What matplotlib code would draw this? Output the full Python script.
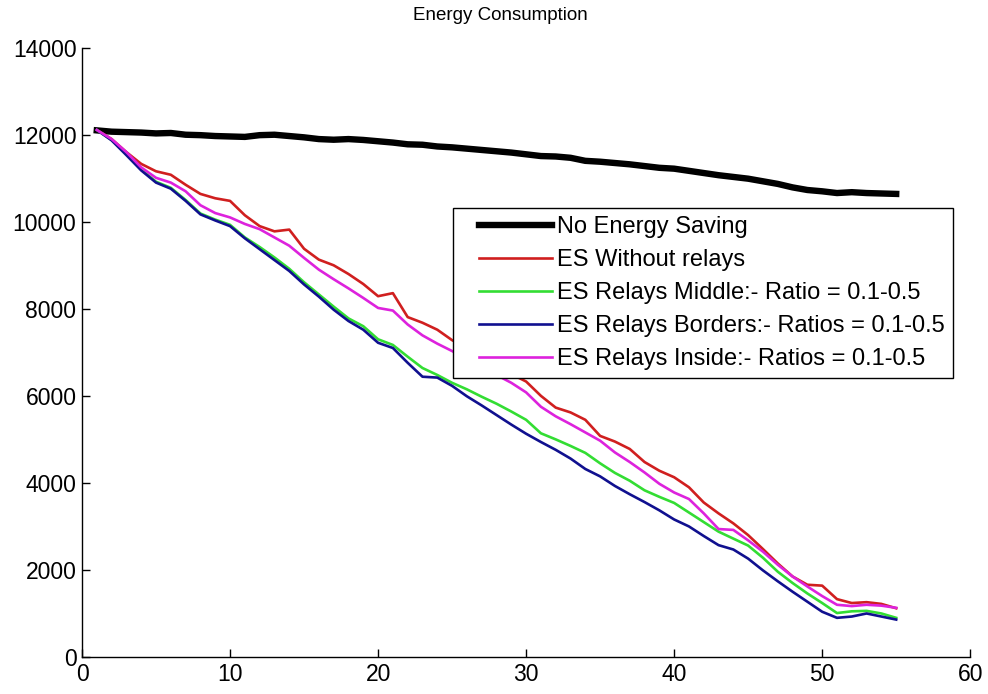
import matplotlib
matplotlib.use("Agg")
import matplotlib.pyplot as plt
from matplotlib.legend_handler import HandlerLine2D
from matplotlib.lines import Line2D
import numpy as np

x = list(range(1, 56))

no_saving = [12100, 12070, 12060, 12050, 12030, 12040, 12000, 11990, 11970, 11960,
             11950, 11990, 12000, 11970, 11940, 11900, 11885, 11900, 11880, 11850,
             11820, 11780, 11770, 11730, 11710, 11680, 11650, 11620, 11590, 11550,
             11510, 11500, 11470, 11400, 11380, 11350, 11320, 11280, 11240, 11220,
             11170, 11120, 11070, 11030, 10990, 10930, 10870, 10790, 10730, 10700,
             10660, 10680, 10660, 10650, 10640]

es_without = [12110, 11900, 11600, 11330, 11160, 11080, 10850, 10640, 10540, 10480,
              10150, 9900, 9780, 9820, 9380, 9130, 9000, 8800, 8570, 8290,
              8360, 7810, 7680, 7520, 7280, 7100, 6850, 6700, 6500, 6330,
              6000, 5730, 5620, 5450, 5080, 4950, 4780, 4480, 4280, 4130,
              3900, 3550, 3300, 3070, 2800, 2480, 2150, 1850, 1660, 1640,
              1330, 1240, 1260, 1220, 1120]

es_middle = [12110, 11880, 11550, 11200, 10920, 10780, 10500, 10190, 10050, 9930,
             9640, 9420, 9180, 8920, 8610, 8330, 8050, 7780, 7600, 7300,
             7170, 6900, 6640, 6480, 6300, 6150, 5980, 5820, 5640, 5450,
             5140, 5000, 4850, 4690, 4450, 4230, 4050, 3830, 3680, 3540,
             3320, 3100, 2880, 2720, 2560, 2280, 1960, 1700, 1460, 1240,
             1010, 1050, 1060, 1000, 900]

es_borders = [12110, 11870, 11530, 11180, 10900, 10760, 10480, 10170, 10030, 9900,
              9620, 9370, 9120, 8870, 8560, 8280, 7980, 7720, 7520, 7220,
              7100, 6760, 6440, 6420, 6230, 5990, 5780, 5560, 5340, 5130,
              4940, 4760, 4560, 4320, 4150, 3930, 3740, 3560, 3370, 3160,
              3000, 2780, 2570, 2470, 2260, 1990, 1740, 1500, 1270, 1040,
              900, 930, 1000, 930, 860]

es_inside = [12110, 11900, 11600, 11250, 11010, 10900, 10700, 10380, 10200, 10100,
             9950, 9830, 9640, 9450, 9170, 8900, 8680, 8470, 8250, 8020,
             7960, 7640, 7390, 7200, 7030, 6850, 6650, 6480, 6300, 6080,
             5750, 5530, 5350, 5160, 4970, 4700, 4480, 4240, 3980, 3780,
             3630, 3300, 2940, 2920, 2680, 2420, 2120, 1850, 1620, 1400,
             1200, 1170, 1200, 1180, 1130]

labels = ["No Energy Saving",
          "ES Without relays",
          "ES Relays Middle:- Ratio = 0.1-0.5",
          "ES Relays Borders:- Ratios = 0.1-0.5",
          "ES Relays Inside:- Ratios = 0.1-0.5"]

x_ticks = [0, 10, 20, 30, 40, 50, 60]
y_ticks = [0, 2000, 4000, 6000, 8000, 10000, 12000, 14000]
title = "Energy Consumption"

font = ["Liberation Sans", "DejaVu Sans"]

LEG_FS = 17.0
SHIFT_PT = 12.5   # indent of legend handles from the frame
LINE_PT = 52.5    # length of the legend line sample


class IndentedLine(HandlerLine2D):
    def create_artists(self, legend, orig_handle, xdescent, ydescent,
                       width, height, fontsize, trans):
        artists = super().create_artists(legend, orig_handle, xdescent, ydescent,
                                         width, height, fontsize, trans)
        for a in artists:
            if isinstance(a, Line2D):
                xd = np.asarray(a.get_xdata(), dtype=float)
                x1 = xd.max()
                a.set_xdata(np.linspace(x1 - LINE_PT, x1, len(xd)))
        return artists


fig = plt.figure(figsize=(9.88, 6.94), dpi=100)
ax = fig.add_axes([0.083, 0.0533, 0.899, 0.878])

ax.plot(x, no_saving, color="black", lw=4.6, label=labels[0])
ax.plot(x, es_without, color="#d01f1f", lw=1.9, label=labels[1])
ax.plot(x, es_middle, color="#33dd33", lw=1.9, label=labels[2])
ax.plot(x, es_borders, color="#10108f", lw=1.9, label=labels[3])
ax.plot(x, es_inside, color="#dd22dd", lw=1.9, label=labels[4])

ax.set_xlim(0, 60)
ax.set_ylim(0, 14000)
ax.set_xticks(x_ticks)
ax.set_yticks(y_ticks)
ax.set_xticklabels([str(t) for t in x_ticks], family=font, fontsize=16.5)
ax.set_yticklabels([str(t) for t in y_ticks], family=font, fontsize=16.5)
ax.tick_params(direction="in", length=6, width=1, pad=4)
ax.spines["top"].set_visible(False)
ax.spines["right"].set_visible(False)
for s in ("left", "bottom"):
    ax.spines[s].set_linewidth(1.0)

fig.text(500 / 988, 1 - 15 / 694, title, ha="center", va="center",
         family=font, fontsize=13.5)

handles, lbls = ax.get_legend_handles_labels()
leg = ax.legend(handles, lbls, loc="upper left", bbox_to_anchor=(0.418, 0.737),
                prop={"family": font, "size": LEG_FS},
                handlelength=(SHIFT_PT + LINE_PT) / LEG_FS,
                handletextpad=0.25, labelspacing=0.47,
                borderpad=0.34, borderaxespad=0.0, fancybox=False,
                framealpha=1, edgecolor="black",
                handler_map={Line2D: IndentedLine()})
leg.get_frame().set_linewidth(1.0)

fig.savefig("out.png", dpi=100)
